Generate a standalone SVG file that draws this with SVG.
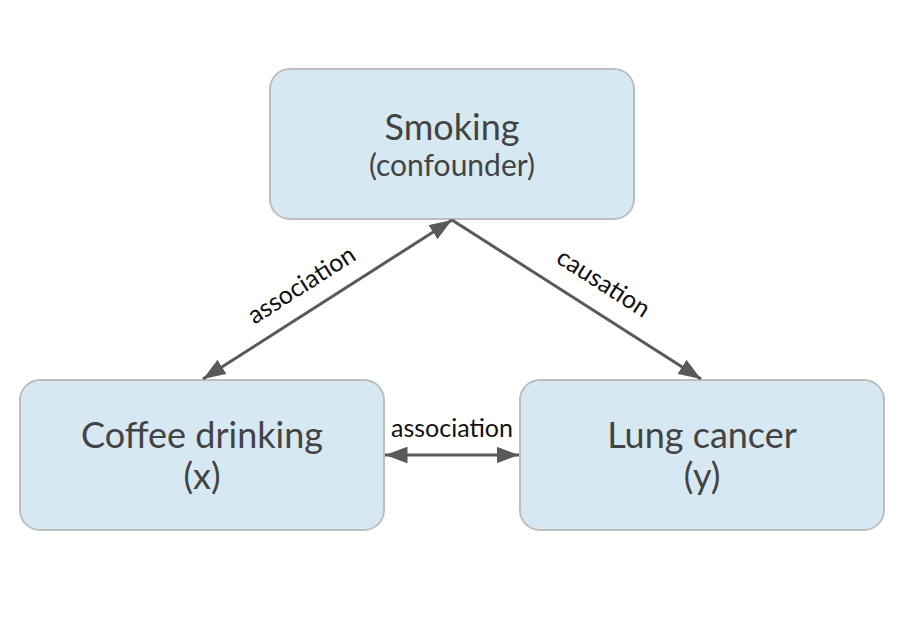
<svg xmlns="http://www.w3.org/2000/svg" width="902" height="618" viewBox="0 0 902 618">
<style>
.box{fill:#d6e9f2;stroke:#bdbdbd;stroke-width:2}
.t1{font-family:Lato,"Open Sans",sans-serif;fill:#434343;text-anchor:middle}
.lbl{font-family:Lato,"Open Sans",sans-serif;fill:#111;font-size:25px;text-anchor:middle}
.ln{stroke:#595959;stroke-width:3;fill:none}
</style>
<defs>
<marker id="ah" viewBox="0 0 10 7.4" refX="10" refY="3.7" markerWidth="7.5" markerHeight="5.55" markerUnits="strokeWidth" orient="auto-start-reverse">
<path d="M0,0 L10,3.7 L0,7.4 z" fill="#595959"/>
</marker>
</defs>
<rect width="902" height="618" fill="#fff"/>
<g id="smoking">
<rect class="box" x="270" y="69" width="364" height="150" rx="20"/>
<text class="t1" x="452" y="140" font-size="36">Smoking</text>
<text class="t1" x="452" y="176" font-size="30">(confounder)</text>
</g>
<g id="coffee">
<rect class="box" x="20" y="380" width="364" height="150" rx="20"/>
<text class="t1" x="202" y="448" font-size="36">Coffee drinking</text>
<text class="t1" x="202" y="489" font-size="36">(x)</text>
</g>
<g id="lung">
<rect class="box" x="520" y="380" width="364" height="150" rx="20"/>
<text class="t1" x="702" y="448" font-size="36">Lung cancer</text>
<text class="t1" x="702" y="489" font-size="36">(y)</text>
</g>
<g id="connectors">
<line class="ln" x1="452" y1="220" x2="203" y2="379" marker-start="url(#ah)" marker-end="url(#ah)"/>
<line class="ln" x1="452" y1="220" x2="701" y2="379" marker-end="url(#ah)"/>
<line class="ln" x1="385" y1="455" x2="519" y2="455" marker-start="url(#ah)" marker-end="url(#ah)"/>
<text class="lbl" transform="translate(306,292) rotate(-32.6)">association</text>
<text class="lbl" transform="translate(599,290) rotate(32.6)">causation</text>
<text class="lbl" x="452" y="437">association</text>
</g>
</svg>
